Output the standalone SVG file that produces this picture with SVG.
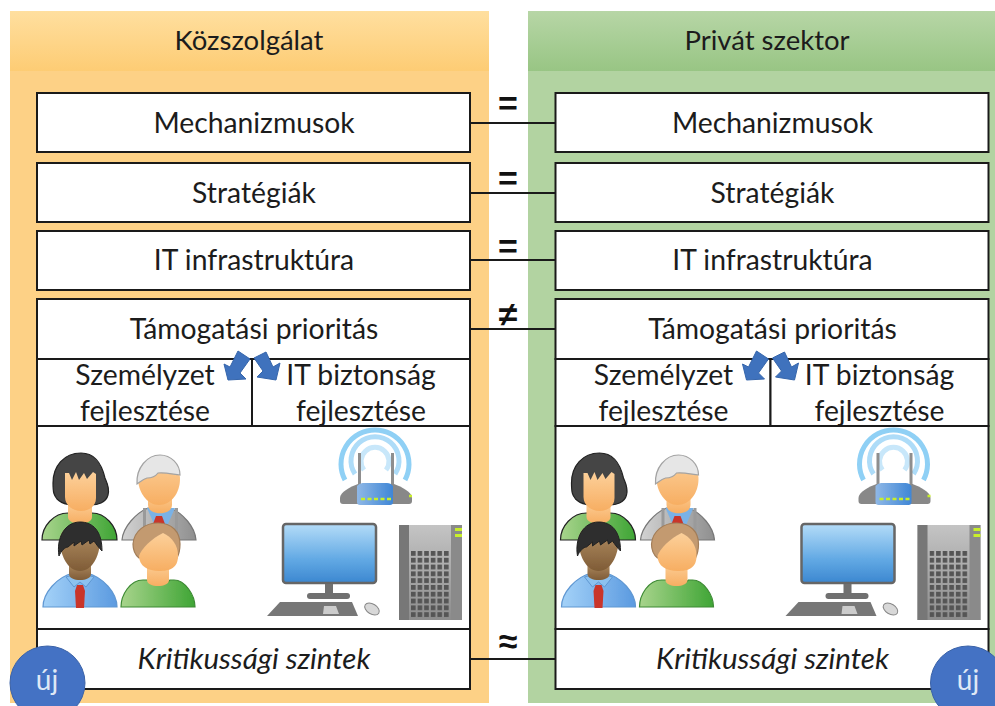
<svg xmlns="http://www.w3.org/2000/svg" width="995" height="706" viewBox="0 0 995 706">
<style>
.box{fill:#fff;stroke:#1a1a1a;stroke-width:2}
.t{font-family:Lato,"Liberation Sans",sans-serif;font-size:28.3px;fill:#1c1c1c;text-anchor:middle}
.i{font-style:italic;font-size:29.500px}
.h{font-size:27.500px}
.rel{font-family:"Liberation Sans",sans-serif;font-weight:bold;font-size:34px;fill:#111;text-anchor:middle}
.con{stroke:#1a1a1a;stroke-width:2;fill:none}
.arrow{fill:#3f72bd;stroke:#3565ab;stroke-width:1}
.badge{fill:#4472c4;stroke:#3a62a8;stroke-width:1}
.bt{font-family:Lato,"Liberation Sans",sans-serif;font-size:28px;fill:#dfe8f6;text-anchor:middle}
.ol{stroke:#222;stroke-width:1.2}
.arc{fill:none;stroke-width:5}
.icon{filter:url(#soft)}
</style>
<defs>
<filter id="soft" x="-5%" y="-5%" width="110%" height="110%"><feGaussianBlur stdDeviation="0.4"/></filter>
<linearGradient id="oh" x1="0" y1="0" x2="0" y2="1"><stop offset="0" stop-color="#ffdf9f"/><stop offset="1" stop-color="#fdcc74"/></linearGradient>
<linearGradient id="gh" x1="0" y1="0" x2="0" y2="1"><stop offset="0" stop-color="#b7d6a6"/><stop offset="1" stop-color="#98c584"/></linearGradient>
<linearGradient id="skin" x1="0" y1="0" x2="0" y2="1"><stop offset="0" stop-color="#fcd09a"/><stop offset="1" stop-color="#f7ae62"/></linearGradient>
<linearGradient id="dskin" x1="0" y1="0" x2="0" y2="1"><stop offset="0" stop-color="#b9956a"/><stop offset="1" stop-color="#7f5c36"/></linearGradient>
<linearGradient id="grn" x1="0" y1="0" x2="1" y2="0"><stop offset="0" stop-color="#a8d48c"/><stop offset="1" stop-color="#3fa535"/></linearGradient>
<linearGradient id="blu" x1="0" y1="0" x2="1" y2="0"><stop offset="0" stop-color="#a4d2f8"/><stop offset="1" stop-color="#5b9ae0"/></linearGradient>
<linearGradient id="gry" x1="0" y1="0" x2="1" y2="0"><stop offset="0" stop-color="#d2d2d2"/><stop offset="1" stop-color="#8f8f8f"/></linearGradient>
<linearGradient id="scr" x1="0" y1="0" x2="0" y2="1"><stop offset="0" stop-color="#b4dcf8"/><stop offset="0.6" stop-color="#62a9e4"/><stop offset="1" stop-color="#3c87d0"/></linearGradient>
<linearGradient id="tow" x1="0" y1="0" x2="0" y2="1"><stop offset="0" stop-color="#c4c4c4"/><stop offset="1" stop-color="#8c8c8c"/></linearGradient>
<linearGradient id="rb" x1="0" y1="0" x2="1" y2="0"><stop offset="0" stop-color="#8fb8e6"/><stop offset="1" stop-color="#3f86d6"/></linearGradient>
<pattern id="grid" x="411" y="551" width="6.6" height="6.8" patternUnits="userSpaceOnUse"><rect width="4.6" height="4.8" fill="#555"/></pattern>

<g id="people" class="icon">
  <path class="ol" fill="url(#grn)" d="M42 540c0-14 12-27 26-27h24c13 0 25 13 25 27z"/>
  <path fill="url(#skin)" d="M68 500h24v17c0 9-24 9-24 0z"/>
  <path fill="#454545" stroke="#222" stroke-width="1.2" d="M81 453c-17 0-28 13-28 30 0 10 1 12 4 16 5 5 10 5 13 6h21c6 0 15-2 17-10 2-7-1-12-3-17-3-13-10-25-24-25z"/>
  <path fill="url(#skin)" d="M65 473l4 0 3 7 4-8 3 8 5-7 3 6 6-7 3 2v24c0 9-8 13-15 13s-16-5-16-14z"/>
  <path fill="url(#gry)" stroke="#777" stroke-width="1.2" d="M122 540c1-13 14-27 26-32h22c13 5 25 19 26 32z"/>
  <path fill="#7ab2e6" d="M147 508h28l-7 16h-14z"/>
  <path fill="#c9352c" d="M156 516h6l3 8h-12z"/>
  <path fill="#9a9a9a" d="M143 508h3v26h-3zM175 508h3v26h-3z"/>
  <path fill="url(#skin)" d="M148 490h24v15c0 11-24 11-24 0z"/>
  <path fill="url(#skin)" d="M138 478c0-10 10-20 22-20s20 10 20 21c0 14-9 26-21 26s-21-13-21-27z"/>
  <path fill="#e6e6e6" stroke="#a3a3a3" stroke-width="1.2" d="M137 484c-1-16 10-29 23-29 11 0 20 9 20 20-8-1-16-3-22-2-3 4-8 5-11 5-4 1-7 4-10 6z"/>
  <path fill="url(#blu)" stroke="#5f97d2" stroke-width="1.2" d="M43 607c0-14 14-30 30-34h14c16 4 30 20 30 34z"/>
  <path fill="#8cc2f0" stroke="#5f97d2" d="M66 577l14-4 14 4-8 10-6-5-6 5z"/>
  <path fill="#c9352c" d="M77 585h6l2 6-1 17h-8l-1-17z"/>
  <path fill="url(#dskin)" d="M69 559h22v15c0 8-22 8-22 0z"/>
  <path fill="url(#dskin)" d="M60 540c0-10 9-16 20-16s20 7 20 16c0 16-8 31-20 31s-20-15-20-31z"/>
  <path fill="#2f2f2f" stroke="#222" d="M59 556c-3-18 6-34 21-34 13 0 22 9 22 29-3-3-6-7-8-10l-4 3-1-4-7 5-1-4-7 5 0-4-6 5c-3 0-7 4-9 9z"/>
  <path fill="url(#grn)" stroke="#3d8a34" stroke-width="1.2" d="M121 607c0-12 9-27 22-27h7c6 6 14 6 20 0h4c11 0 21 15 21 27z"/>
  <path fill="url(#skin)" d="M147 562h22v18c0 8-22 8-22 0z"/>
  <path fill="#c39a70" stroke="#a27d58" stroke-width="1.2" d="M139 558c-5-4-6-10-6-14 1-13 12-21 25-21 14 0 22 9 22 21 0 5-1 10-3 14z"/>
  <path fill="url(#skin)" d="M139 556c2-7 13-18 24-23 9 4 15 12 15 23 0 12-8 15-19 15s-20-5-20-15z"/>
</g>

<g id="router" class="icon">
  <path class="arc" stroke="#8fd0f5" d="M345 480a34 34 0 1 1 60 0"/>
  <path class="arc" stroke="#aedcf8" d="M355 474a24 24 0 1 1 40 0"/>
  <path class="arc" stroke="#c8e7fa" d="M364 470a14 14 0 1 1 22 0"/>
  <path fill="#8e8e8e" d="M358 453h3v32h-3zM391 453h3v32h-3z"/>
  <path fill="#888" d="M340 498c0-6 10-11 18-14h36c8 3 18 8 18 14v3c0 2-1 3-3 3h-66c-2 0-3-1-3-3z"/>
  <path fill="url(#rb)" d="M357 486c3-3 5-3 7-3h23c3 0 4 1 6 3v16c0 2-1 3-3 3h-30c-2 0-3-1-3-3z"/>
  <path stroke="#c8ef2c" stroke-width="2.5" stroke-dasharray="4 2.5" d="M361 499h30M409 496h3" fill="none"/>
</g>

<g id="computer" class="icon">
  <rect x="283" y="524" width="93" height="59" rx="3" fill="url(#scr)" stroke="#666" stroke-width="2.5"/>
  <rect x="325" y="584" width="8" height="10" fill="#6f6f6f"/>
  <rect x="307" y="593" width="43" height="6" rx="3" fill="#6f6f6f"/>
  <path fill="#777" d="M267 616l13-14h72l6 14z"/>
  <path fill="#ccc" d="M324 606h12l3 8h-16z"/>
  <ellipse cx="372" cy="609" rx="8" ry="5" transform="rotate(32 372 609)" fill="#d8d8d8" stroke="#888"/>
  <rect x="399" y="525" width="63" height="95" fill="url(#tow)"/>
  <rect x="399" y="525" width="10" height="95" fill="#777"/>
  <rect x="451" y="525" width="11" height="95" fill="#8a8a8a"/>
  <rect x="411" y="551" width="39" height="67" fill="url(#grid)"/>
  <rect x="455" y="528" width="7" height="3" fill="#c8ef2c"/>
  <rect x="455" y="534" width="7" height="3" fill="#c8ef2c"/>
</g>

<g id="split-arrows">
  <path class="arrow" d="M224 364L228 380 246 379 240 373 250 359 238 351 230 367Z"/>
  <path class="arrow" d="M280 363L276 380 257 377 263 371 254 358 266 352 273 367Z"/>
</g>
</defs>

<g id="panel-kozszolgalat">
  <rect x="10" y="11" width="479" height="692" fill="#fdd186"/>
  <rect x="10" y="11" width="479" height="60" fill="url(#oh)"/>
  <text class="t h" x="249" y="50">Közszolgálat</text>
</g>
<g id="panel-privat">
  <rect x="528" y="11" width="470" height="692" fill="#b2d3a1"/>
  <rect x="528" y="11" width="470" height="60" fill="url(#gh)"/>
  <text class="t h" x="767" y="50">Privát szektor</text>
</g>

<g id="connectors">
  <path class="con" d="M470 123H555M470 193H555M470 260H555M470 329H555M470 659H555"/>
</g>
<g id="relations">
  <text class="rel" x="508" y="115">=</text>
  <text class="rel" x="508" y="190">=</text>
  <text class="rel" x="508" y="258">=</text>
  <text class="rel" x="508" y="326">≠</text>
  <text class="rel" x="508" y="653">≈</text>
</g>

<g id="l-mechanizmusok"><rect class="box" x="37" y="93" width="433" height="59"/><text class="t" x="254" y="133">Mechanizmusok</text></g>
<g id="l-strategiak"><rect class="box" x="37" y="163" width="433" height="59"/><text class="t" x="254" y="203">Stratégiák</text></g>
<g id="l-it"><rect class="box" x="37" y="231" width="433" height="59"/><text class="t" x="254" y="270">IT infrastruktúra</text></g>
<g id="l-tamogatasi"><rect class="box" x="37" y="299" width="433" height="60"/><text class="t" x="254" y="339">Támogatási prioritás</text></g>
<g id="l-szemelyzet"><rect class="box" x="37" y="359" width="215" height="67"/><text class="t" x="145" y="385">Személyzet</text><text class="t" x="145" y="421">fejlesztése</text></g>
<g id="l-biztonsag"><rect class="box" x="252" y="359" width="218" height="67"/><text class="t" x="361" y="385">IT biztonság</text><text class="t" x="361" y="421">fejlesztése</text></g>
<use href="#split-arrows"/>
<g id="l-eroforrasok"><rect class="box" x="37" y="426" width="433" height="203"/><use href="#people"/><use href="#router"/><use href="#computer"/></g>
<g id="l-kritikussag"><rect class="box" x="37" y="629" width="433" height="60"/><text class="t i" x="254" y="669">Kritikussági szintek</text></g>
<g id="l-uj"><ellipse class="badge" cx="47.500" cy="683" rx="37.500" ry="37"/><text class="bt" x="47" y="690">új</text></g>

<g id="r-mechanizmusok"><rect class="box" x="555.500" y="93" width="433" height="59"/><text class="t" x="772.500" y="133">Mechanizmusok</text></g>
<g id="r-strategiak"><rect class="box" x="555.500" y="163" width="433" height="59"/><text class="t" x="772.500" y="203">Stratégiák</text></g>
<g id="r-it"><rect class="box" x="555.500" y="231" width="433" height="59"/><text class="t" x="772.500" y="270">IT infrastruktúra</text></g>
<g id="r-tamogatasi"><rect class="box" x="555.500" y="299" width="433" height="60"/><text class="t" x="772.500" y="339">Támogatási prioritás</text></g>
<g id="r-szemelyzet"><rect class="box" x="555.500" y="359" width="215" height="67"/><text class="t" x="663.500" y="385">Személyzet</text><text class="t" x="663.500" y="421">fejlesztése</text></g>
<g id="r-biztonsag"><rect class="box" x="770.500" y="359" width="218" height="67"/><text class="t" x="879.500" y="385">IT biztonság</text><text class="t" x="879.500" y="421">fejlesztése</text></g>
<use href="#split-arrows" x="518.500"/>
<g id="r-eroforrasok"><rect class="box" x="555.500" y="426" width="433" height="203"/><use href="#people" x="518.500"/><use href="#router" x="518.500"/><use href="#computer" x="518.500"/></g>
<g id="r-kritikussag"><rect class="box" x="555.500" y="629" width="433" height="60"/><text class="t i" x="772.500" y="669">Kritikussági szintek</text></g>
<g id="r-uj"><ellipse class="badge" cx="968" cy="683" rx="37.500" ry="37"/><text class="bt" x="968" y="690">új</text></g>
</svg>
